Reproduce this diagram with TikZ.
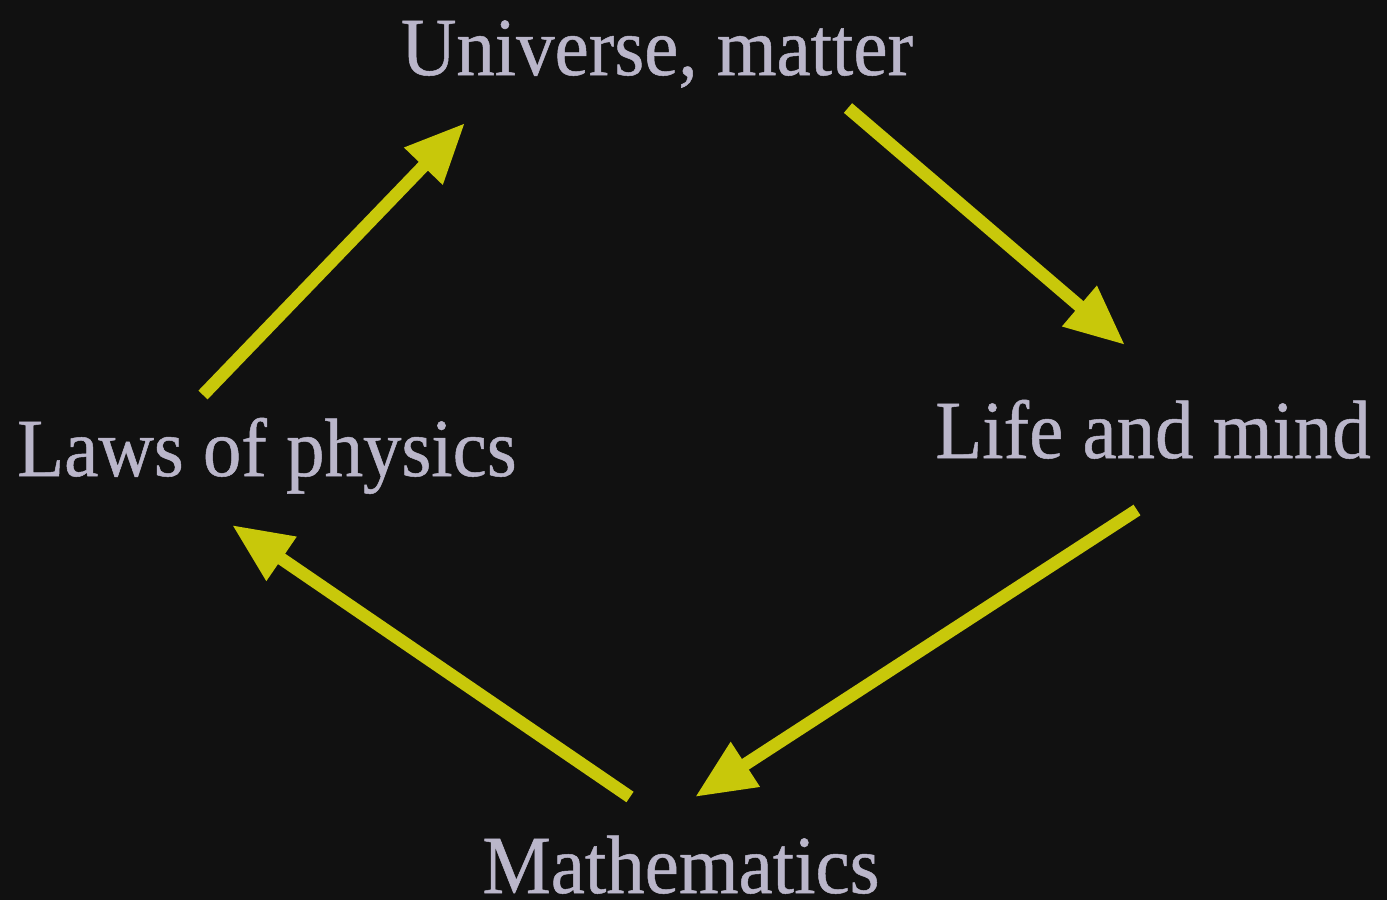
\documentclass[tikz,border=0pt]{standalone}
\usepackage{fontspec}
\setmainfont{Liberation Serif}
\newfontfamily\lblfont[FakeStretch=0.93,FakeBold=0.6]{Liberation Serif}
\usetikzlibrary{arrows.meta}
\definecolor{bgc}{HTML}{111111}
\definecolor{txtc}{HTML}{BAB6CA}
\definecolor{arrc}{HTML}{C8C80A}
\tikzset{
  lbl/.style={anchor=base, text=txtc, inner sep=0pt, font=\lblfont\fontsize{23.5}{24}\selectfont},
  flow/.style={draw=arrc, line width=3.6pt, -{Triangle[length=0.6cm,width=0.5cm]}}
}
\begin{document}
\begin{tikzpicture}[x=0.01cm,y=-0.01cm]
\fill[bgc] (0,0) rectangle (1387,900);
\useasboundingbox (0,0) rectangle (1387,900);
\node[lbl] (um) at (657,75) {Universe, matter};
\node[lbl] (lp) at (267,476) {Laws of physics};
\node[lbl] (lm) at (1153,458) {Life and mind};
\node[lbl] (ma) at (681,893) {Mathematics};
\coordinate (a1s) at (203,395);
\coordinate (a1e) at (465,123);
\coordinate (a2s) at (848,108);
\coordinate (a2e) at (1125,345);
\coordinate (a3s) at (1137,510);
\coordinate (a3e) at (695,797);
\coordinate (a4s) at (630,797);
\coordinate (a4e) at (232,525);
\draw[flow] (a1s) -- (a1e);
\draw[flow] (a2s) -- (a2e);
\draw[flow] (a3s) -- (a3e);
\draw[flow] (a4s) -- (a4e);
\end{tikzpicture}
\end{document}
